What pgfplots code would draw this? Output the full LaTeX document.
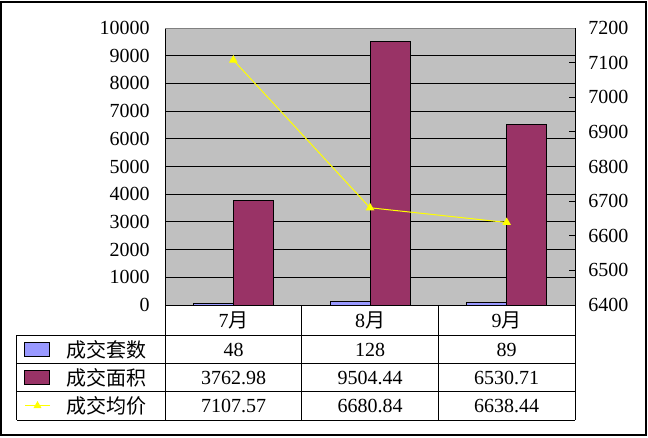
\documentclass[border=0pt]{standalone}
\usepackage{fontspec}
\setmainfont{Liberation Serif}
\newfontfamily\cjk{Noto Sans CJK SC}
\usepackage{pgfplots}
\pgfplotsset{compat=1.18}
\definecolor{plotbg}{HTML}{C0C0C0}
\definecolor{taoshu}{HTML}{9999FF}
\definecolor{mianji}{HTML}{993366}
\definecolor{junjia}{HTML}{FFFF00}
\definecolor{topgray}{HTML}{808080}
\newcommand{\fs}{\fontsize{15}{18}\selectfont}

\begin{document}
\begin{tikzpicture}[font=\fs]
% page and frame (units: pixels of the reference, y downwards)
\begin{scope}[x=0.75pt,y=-0.75pt,shift={(-165,-305)}]
  \fill[white] (0,0) rectangle (648,437);
  \draw[line width=1.5pt] (1.5,1.5) rectangle (645.5,434.5);
\end{scope}

% left axis: bars
\begin{axis}[
  at={(0,0)}, anchor=south west,
  scale only axis, width=307.5pt, height=207.75pt,
  axis background/.style={fill=plotbg},
  axis x line=none, axis y line*=left,
  axis line style={black, line width=0.75pt},
  xmin=-0.5, xmax=2.5, xtick=\empty,
  ymin=0, ymax=10000, ytick={0,1000,...,10000},
  ymajorgrids, major grid style={black, line width=0.75pt},
  tick align=inside, major tick length=4.5pt,
  tick style={black, line width=0.75pt},
  scaled ticks=false,
  /pgf/number format/1000 sep={},
  /pgf/number format/assume math mode=true,
  tick label style={font=\fs},
  yticklabel style={anchor=east, inner sep=0pt, xshift=-11.25pt},
]
\addplot[ybar, bar width=30pt, bar shift=-15pt, fill=taoshu, draw=black, line width=0.75pt]
  coordinates {(0,48) (1,128) (2,89)};
\addplot[ybar, bar width=30pt, bar shift=15pt, fill=mianji, draw=black, line width=0.75pt]
  coordinates {(0,3762.98) (1,9504.44) (2,6530.71)};
\end{axis}

% right axis: average price
\begin{axis}[
  at={(0,0)}, anchor=south west,
  scale only axis, width=307.5pt, height=207.75pt,
  axis x line=none, axis y line*=right,
  axis line style={black, line width=0.75pt},
  xmin=-0.5, xmax=2.5, xtick=\empty,
  ymin=6400, ymax=7200, ytick={6400,6500,...,7200},
  tick align=inside, major tick length=4.5pt,
  tick style={black, line width=0.75pt},
  scaled ticks=false,
  /pgf/number format/1000 sep={},
  /pgf/number format/assume math mode=true,
  tick label style={font=\fs},
  yticklabel style={anchor=west, inner sep=0pt, xshift=9.75pt},
]
\addplot[junjia, line width=0.75pt, mark=triangle*, mark size=3pt,
  mark options={fill=junjia, draw=junjia}]
  coordinates {(0,7107.57) (1,6680.84) (2,6638.44)};
\end{axis}

% plot top edge and data table
\begin{scope}[x=0.75pt,y=-0.75pt,shift={(-165,-305)}, line width=0.75pt]
  \draw[topgray] (165,28) -- (575,28);
  \draw (165,305) -- (575,305);
  \foreach \yy in {335,363.5,391.5,420} \draw (17,\yy) -- (575,\yy);
  \draw (17,335) -- (17,420);
  \foreach \xx in {165,301.7,438,575} \draw (\xx,305) -- (\xx,420);
  % month row
  \node at (233.5,320) {7{\cjk 月}};
  \node at (370,320) {8{\cjk 月}};
  \node at (506.5,320) {9{\cjk 月}};
  % legend keys
  \draw[fill=taoshu] (25,342.5) rectangle (50,356.5);
  \draw[fill=mianji] (25,370.5) rectangle (50,384.5);
  \draw[junjia] (25,405.5) -- (50,405.5);
  \fill[junjia] (37.5,401) -- (41.5,408) -- (33.5,408) -- cycle;
  \node[anchor=west, inner sep=0pt] at (66,349.5) {\cjk 成交套数};
  \node[anchor=west, inner sep=0pt] at (66,377.5) {\cjk 成交面积};
  \node[anchor=west, inner sep=0pt] at (66,405.5) {\cjk 成交均价};
  % values
  \node at (233.5,349.5) {48};
  \node at (370,349.5) {128};
  \node at (506.5,349.5) {89};
  \node at (233.5,377.5) {3762.98};
  \node at (370,377.5) {9504.44};
  \node at (506.5,377.5) {6530.71};
  \node at (233.5,405.5) {7107.57};
  \node at (370,405.5) {6680.84};
  \node at (506.5,405.5) {6638.44};
\end{scope}
\end{tikzpicture}
\end{document}
